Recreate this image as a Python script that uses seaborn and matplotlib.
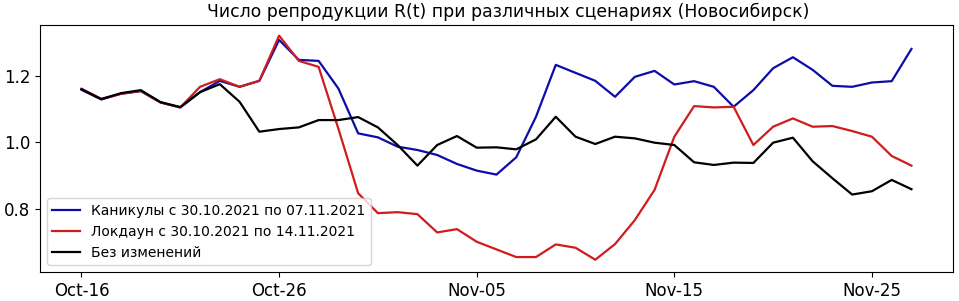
import matplotlib
matplotlib.use("Agg")
import matplotlib.pyplot as plt
import matplotlib.dates as mdates
import numpy as np
import pandas as pd
import seaborn as sns

dates = pd.date_range("2021-10-16", "2021-11-27", freq="D")

holidays = [1.157, 1.128, 1.145, 1.153, 1.119, 1.104, 1.150, 1.184, 1.166, 1.184,
            1.307, 1.247, 1.244, 1.161, 1.026, 1.014, 0.986, 0.976, 0.961, 0.934,
            0.914, 0.902, 0.954, 1.076, 1.232, 1.208, 1.184, 1.136, 1.196, 1.214,
            1.173, 1.183, 1.166, 1.106, 1.156, 1.222, 1.255, 1.217, 1.169, 1.166,
            1.179, 1.183, 1.280]
lockdown = [1.160, 1.130, 1.145, 1.154, 1.119, 1.104, 1.166, 1.189, 1.166, 1.184,
            1.320, 1.244, 1.226, 1.040, 0.846, 0.786, 0.789, 0.783, 0.728, 0.738,
            0.700, 0.677, 0.654, 0.654, 0.692, 0.682, 0.646, 0.693, 0.765, 0.856,
            1.016, 1.108, 1.104, 1.106, 0.991, 1.046, 1.071, 1.046, 1.048, 1.033,
            1.016, 0.958, 0.929]
baseline = [1.159, 1.129, 1.147, 1.156, 1.120, 1.105, 1.150, 1.174, 1.121, 1.031,
            1.039, 1.044, 1.066, 1.066, 1.075, 1.044, 0.991, 0.929, 0.991, 1.018,
            0.983, 0.984, 0.978, 1.008, 1.076, 1.016, 0.994, 1.016, 1.011, 0.998,
            0.991, 0.939, 0.931, 0.938, 0.937, 0.998, 1.013, 0.942, 0.891, 0.842,
            0.852, 0.886, 0.858]

labels = ["Каникулы с 30.10.2021 по 07.11.2021",
          "Локдаун с 30.10.2021 по 14.11.2021",
          "Без изменений"]
colors = ["#0c0ca8", "#d01c1c", "#000000"]

df = pd.concat([
    pd.DataFrame({"date": dates, "R": holidays, "scenario": labels[0]}),
    pd.DataFrame({"date": dates, "R": lockdown, "scenario": labels[1]}),
    pd.DataFrame({"date": dates, "R": baseline, "scenario": labels[2]}),
])

plt.rcParams["font.family"] = ["DejaVu Sans"]
fig = plt.figure(figsize=(9.59, 3.01), dpi=100)
ax = fig.add_axes([0.0417, 0.0963, 0.952, 0.8207])
sns.lineplot(data=df, x="date", y="R", hue="scenario", palette=colors,
             hue_order=labels, linewidth=1.6, ax=ax)

ax.set_ylim(0.609, 1.352)
ax.margins(x=0.05)
ax.set_yticks([0.8, 1.0, 1.2])
ticks = pd.date_range("2021-10-16", periods=5, freq="10D")
ax.set_xticks(ticks)
ax.xaxis.set_major_formatter(mdates.DateFormatter("%b-%d"))
ax.tick_params(labelsize=12)
ax.set_xlabel("")
ax.set_ylabel("")
ax.set_title("Число репродукции R(t) при различных сценариях (Новосибирск)",
             fontsize=12.4, x=0.513)
ax.legend(loc="lower left", fontsize=10, title=None)
fig.savefig("out.png", dpi=100)
